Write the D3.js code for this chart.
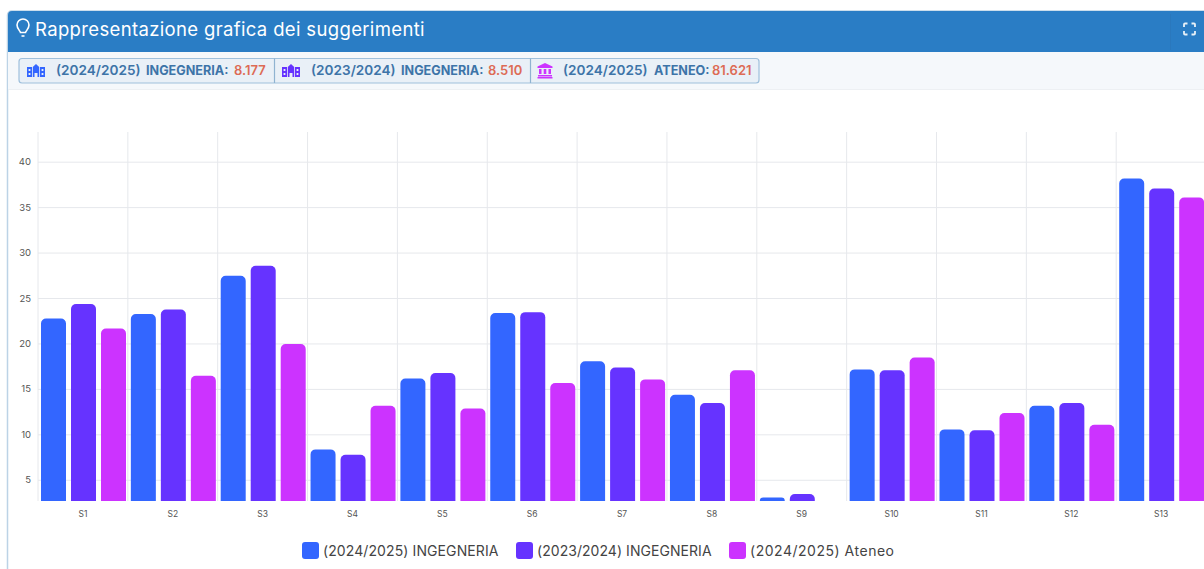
<!DOCTYPE html>
<html>
<head>
<meta charset="utf-8">
<script src="https://cdnjs.cloudflare.com/ajax/libs/d3/7.8.5/d3.min.js"></script>
<style>
  html, body { margin: 0; padding: 0; background: #fff; overflow: hidden; }
  text { font-family: "Inter", "Open Sans", sans-serif; }
</style>
</head>
<body>
<div id="chart"></div>
<script>
// Values
var categories = ["S1", "S2", "S3", "S4", "S5", "S6", "S7", "S8", "S9", "S10", "S11", "S12", "S13"];
var ing2425 = [22.8, 23.3, 27.5, 8.4, 16.2, 23.4, 18.1, 14.4, 3.1, 17.2, 10.6, 13.2, 38.2];
var ing2324 = [24.4, 23.8, 28.6, 7.8, 16.8, 23.5, 17.4, 13.5, 3.5, 17.1, 10.5, 13.5, 37.1];
var ateneo2425 = [21.7, 16.5, 20.0, 13.2, 12.9, 15.7, 16.1, 17.1, null, 18.5, 12.4, 11.1, 36.1];
var seriesNames = ["(2024/2025) INGEGNERIA", "(2023/2024) INGEGNERIA", "(2024/2025) Ateneo"];
var seriesColors = ["#3366ff", "#6633ff", "#cc33ff"];
var yTicks = [5, 10, 15, 20, 25, 30, 35, 40];
var badgeYears = ["(2024/2025)", "(2023/2024)", "(2024/2025)"];
var badgeNames = ["INGEGNERIA:", "INGEGNERIA:", "ATENEO:"];
var badgeTotals = ["8.177", "8.510", "81.621"];

var svgWidth = 1204;
var svgHeight = 569;
var allSeries = [ing2425, ing2324, ateneo2425];

var svg = d3.select("#chart")
  .append("svg")
  .attr("width", svgWidth)
  .attr("height", svgHeight)
  .style("display", "block");

// Card frame and header
svg.append("rect").attr("x", 7.5).attr("y", 11).attr("width", 1200).attr("height", 570)
  .attr("rx", 4).attr("fill", "#fff").attr("stroke", "#bcd3e6").attr("stroke-width", 1.5);
svg.append("path").attr("d", "M8,52V15a4,4 0 0 1 4,-4H1204V52Z").attr("fill", "#2a7dc5");
svg.append("rect").attr("x", 8).attr("y", 52).attr("width", 1196).attr("height", 37).attr("fill", "#f5f8fb");
svg.append("line").attr("x1", 8).attr("x2", 1204).attr("y1", 89.5).attr("y2", 89.5).attr("stroke", "#edf0f3");

// Lightbulb icon
var bulb = svg.append("g").attr("fill", "none").attr("stroke", "#fff").attr("stroke-width", 1.6)
  .attr("transform", "translate(0.5,2.5)");
bulb.append("path").attr("d", "M20,30c-.2,-1.5 -3.5,-3.5 -3.5,-7.5a6,6 0 0 1 12,0c0,4 -3.3,6 -3.5,7.5Z");
bulb.append("path").attr("d", "M21,33.5h3");

svg.append("text").attr("x", 35).attr("y", 35.5)
  .attr("font-size", 18.5).attr("fill", "#fff").attr("font-weight", 400)
  .attr("letter-spacing", 0.35)
  .text("Rappresentazione grafica dei suggerimenti");

// Fullscreen icon
svg.append("path")
  .attr("d", "M1184,27V24.5a1,1 0 0 1 1,-1H1187.5M1191.5,23.5H1194a1,1 0 0 1 1,1V27M1195,31V33.5a1,1 0 0 1 -1,1H1191.5M1187.5,34.5H1185a1,1 0 0 1 -1,-1V31")
  .attr("fill", "none").attr("stroke", "#e8f1f8").attr("stroke-width", 1.8);
svg.append("line").attr("x1", 1170.5).attr("x2", 1170.5).attr("y1", 14).attr("y2", 50).attr("stroke", "#2a78bd");

// Badges with the totals
svg.append("rect").attr("x", 19).attr("y", 58.5).attr("width", 740).attr("height", 24.5)
  .attr("rx", 3).attr("fill", "#e9f0f7").attr("stroke", "#9fc0dc").attr("stroke-width", 1.2);
[274.5, 530.5].forEach(function (x) {
  svg.append("line").attr("x1", x).attr("x2", x).attr("y1", 58.5).attr("y2", 83)
    .attr("stroke", "#8fb3d1").attr("stroke-width", 1.2);
});

var yearX = [56, 311, 563];
var nameX = [146, 401, 654];
var totalX = [234, 488, 712];
var iconX = [27, 282, 537];
yearX.forEach(function (x, i) {
  svg.append("text").attr("x", x).attr("y", 75).attr("font-size", 13.6)
    .attr("font-weight", 600).attr("fill", "#3d74a8").text(badgeYears[i]);
  svg.append("text").attr("x", nameX[i]).attr("y", 75).attr("font-size", 12.6)
    .attr("font-weight", 700).attr("fill", "#3d74a8").text(badgeNames[i]);
  svg.append("text").attr("x", totalX[i]).attr("y", 75).attr("font-size", 13)
    .attr("font-weight", 600).attr("fill", "#dd6b55").text(badgeTotals[i]);

  var g = svg.append("g").attr("transform", "translate(" + iconX[i] + ",63.5)");
  if (i < 2) {
    // two wings and a central block with a door
    g.append("path")
      .attr("d", "M0,3.5H5V13.5H0Z M13,3.5H18V13.5H13Z M5.8,3.5L9,0.5L12.2,3.5V13.5H10.5V9.5H7.5V13.5H5.8Z M1.6,5.5V7.5H3.4V5.5Z M1.6,9.5V11.5H3.4V9.5Z M14.6,5.5V7.5H16.4V5.5Z M14.6,9.5V11.5H16.4V9.5Z")
      .attr("fill", seriesColors[i]).attr("fill-rule", "evenodd");
  } else {
    // university building
    g.attr("transform", "translate(537.5,63)");
    g.append("path")
      .attr("d", "M7.5,0L15,3.5V5H0V3.5Z M1.5,6H4V11H1.5Z M6.2,6H8.8V11H6.2Z M11,6H13.5V11H11Z M.5,12H14.5V13.5H.5Z M0,14H15V15.5H0Z")
      .attr("fill", seriesColors[i]);
  }
});

// Scales
var xScale = d3.scaleBand()
  .domain(categories)
  .range([38, 38 + 89.85 * categories.length]);

var xGroup = d3.scaleBand()
  .domain(d3.range(allSeries.length))
  .range([3, 88])
  .paddingInner(1 / 6);

var yScale = d3.scaleLinear()
  .domain([2.72, 43.32])
  .range([501, 132]);

// Grid lines
var gridColor = "#e6e8ec";
svg.append("g").selectAll("line")
  .data(yTicks)
  .enter().append("line")
  .attr("x1", 38).attr("x2", svgWidth)
  .attr("y1", function (d) { return yScale(d); })
  .attr("y2", function (d) { return yScale(d); })
  .attr("stroke", gridColor);

svg.append("g").selectAll("line")
  .data(categories)
  .enter().append("line")
  .attr("x1", function (d) { return xScale(d); })
  .attr("x2", function (d) { return xScale(d); })
  .attr("y1", 132).attr("y2", 501)
  .attr("stroke", gridColor);

// Axes
var leftAxis = d3.axisLeft(yScale).tickValues(yTicks).tickSize(0).tickPadding(7);
var bottomAxis = d3.axisBottom(xScale).tickSize(0).tickPadding(10);

var yAxisG = svg.append("g").attr("transform", "translate(38,-0.5)").call(leftAxis);
yAxisG.select(".domain").remove();
yAxisG.selectAll("text").attr("font-size", 9.5).attr("fill", "#555");

var xAxisG = svg.append("g").attr("transform", "translate(0,501)").call(bottomAxis);
xAxisG.select(".domain").remove();
xAxisG.selectAll("text").attr("font-size", 8.5).attr("fill", "#555");

// Bars with rounded tops
function barPath(x, w, yTop, yBase) {
  var r = Math.min(5, yBase - yTop, w / 2);
  return "M" + x + "," + yBase + "V" + (yTop + r) +
    "a" + r + "," + r + " 0 0 1 " + r + "," + (-r) +
    "H" + (x + w - r) +
    "a" + r + "," + r + " 0 0 1 " + r + "," + r +
    "V" + yBase + "Z";
}

var groups = svg.append("g").selectAll("g")
  .data(categories)
  .enter().append("g")
  .attr("transform", function (d) { return "translate(" + xScale(d) + ",0)"; });

groups.selectAll("path")
  .data(function (d, i) {
    return allSeries.map(function (s, k) { return { series: k, value: s[i] }; })
      .filter(function (b) { return b.value !== null; });
  })
  .enter().append("path")
  .attr("d", function (b) {
    return barPath(xGroup(b.series), xGroup.bandwidth(), yScale(b.value), yScale.range()[0]);
  })
  .attr("fill", function (b) { return seriesColors[b.series]; });

// Legend
var legendX = [302, 516, 729];
var legendSpacing = [0.1, 0.05, 0.52];
var legend = svg.append("g").selectAll("g")
  .data(seriesNames)
  .enter().append("g")
  .attr("transform", function (d, i) { return "translate(" + legendX[i] + ",542)"; });

legend.append("rect")
  .attr("width", 17).attr("height", 17).attr("rx", 3)
  .attr("fill", function (d, i) { return seriesColors[i]; });

legend.append("text")
  .attr("x", 21).attr("y", 14)
  .attr("font-size", 14).attr("fill", "#444")
  .attr("letter-spacing", function (d, i) { return legendSpacing[i]; })
  .text(function (d) { return d; });
</script>
</body>
</html>
